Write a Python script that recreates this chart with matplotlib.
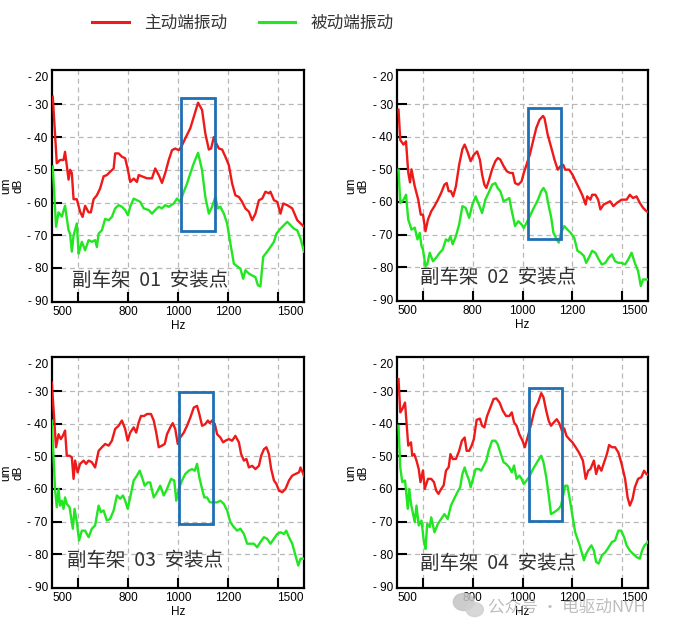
import matplotlib
matplotlib.use('Agg')
import matplotlib.pyplot as plt
from matplotlib.patches import Rectangle, Ellipse
from matplotlib.lines import Line2D

plt.rcParams['font.family'] = ['Liberation Sans', 'Noto Sans CJK SC', 'DejaVu Sans']

# ---------------- data ----------------
legend_labels = ['主动端振动', '被动端振动']
panel_titles = ['副车架  01  安装点', '副车架  02  安装点', '副车架  03  安装点', '副车架  04  安装点']
x_tick_values = [500, 800, 1000, 1200, 1500]
x_grid_values = [600, 800, 1000, 1200, 1400]
y_tick_values = [-20, -30, -40, -50, -60, -70, -80, -90]
y_grid_values = [-30, -40, -50, -60, -70, -80]

p1_main = [(500,-27.7),(516,-48),(529,-47),(543,-47),(549,-44.5),(563,-53),(569,-50),(576,-51),(583,-59),(596,-59),
           (609,-62.8),(619,-64.4),(629,-61),(643,-63),(652,-63),(663,-59),(676,-57.8),(689,-55.7),(703,-52),(716,-51.6),
           (729,-50.6),(743,-49.6),(749,-45),(763,-45),(776,-46),(789,-46.5),(800,-50),(809,-53.7),(823,-52.7),(836,-53.7),
           (843,-51.6),(856,-52),(876,-52.6),(896,-52.6),(909,-49.6),(923,-51.6),(936,-54),(949,-51),(963,-47),(976,-44),
           (989,-43.5),(1003,-44),(1013,-43),(1029,-40.4),(1049,-37.3),(1063,-33.8),(1080,-29.5),(1096,-31.7),(1109,-38.9),(1123,-43.8),
           (1132,-43.5),(1143,-40),(1153,-42),(1163,-43.5),(1176,-43.8),(1189,-46),(1203,-48.6),(1216,-54.2),(1229,-57.8),(1243,-58.3),
           (1256,-59.8),(1269,-61.8),(1283,-62.8),(1296,-65.4),(1309,-63.4),(1323,-59.3),(1336,-58.8),(1349,-56.7),(1363,-57.2),(1369,-56.7),
           (1383,-59.3),(1396,-59.8),(1409,-63.4),(1420,-60.3),(1436,-60.8),(1456,-61.8),(1476,-65.4),(1496,-66.9),(1505,-67.5)]
p1_pass = [(500,-49),(513,-67.4),(523,-63),(536,-64.3),(549,-61),(563,-68.5),(569,-69.5),(576,-75),(583,-70),(596,-66.4),
           (603,-75.6),(609,-74),(616,-72),(629,-74.6),(643,-71.5),(656,-72),(669,-71.5),(676,-73.6),(683,-69.5),(696,-68.5),
           (709,-65),(723,-65.4),(736,-64.4),(749,-61.8),(763,-60.8),(776,-61.3),(789,-62.3),(800,-63.9),(809,-61.3),(823,-58.8),
           (836,-59.3),(849,-59.8),(863,-61.8),(883,-62.3),(896,-63.4),(909,-62.3),(923,-61.3),(936,-61.8),(949,-60.8),(963,-61.3),
           (983,-60.3),(996,-58.8),(1009,-59.8),(1023,-56.7),(1036,-54.2),(1049,-51.1),(1063,-48),(1080,-44.8),(1096,-50.1),(1109,-58.3),
           (1123,-63.4),(1136,-61.3),(1149,-58.3),(1159,-61.8),(1169,-61.3),(1183,-63.4),(1196,-66.4),(1209,-72.5),(1223,-78.7),(1236,-79.5),
           (1249,-80.2),(1260,-83.3),(1269,-80.7),(1283,-81.7),(1296,-82.3),(1309,-82.8),(1319,-85.3),(1329,-85.6),(1340,-76.6),(1356,-75),
           (1369,-73.6),(1383,-72),(1393,-69.5),(1409,-68),(1423,-66.9),(1436,-65.9),(1449,-66.9),(1463,-68),(1476,-68.5),(1489,-71),(1503,-75)]

p2_main = [(503,-31.7),(510,-41),(523,-42.4),(533,-41.4),(542,-51),(549,-54),(555,-50),(568,-55.2),(582,-59.3),(592,-63.9),
           (601,-63.9),(611,-69),(621,-65.4),(634,-62.9),(647,-61.3),(661,-59.3),(674,-57.2),(687,-54.7),(696,-54.2),(704,-56.7),
           (713,-56.7),(722,-58.3),(733,-55.2),(746,-48.6),(759,-43.8),(768,-42.4),(779,-44.5),(792,-47.5),(805,-45.5),(818,-44.5),
           (829,-47),(838,-51.6),(847,-54.7),(855,-55.7),(864,-53.7),(878,-50),(891,-47.5),(901,-46.5),(911,-47),(924,-49),
           (937,-50.6),(950,-51.1),(961,-51.1),(970,-54.2),(983,-54.7),(996,-53.7),(1005,-51.1),(1016,-48.6),(1029,-45.5),(1042,-41.4),
           (1055,-37.3),(1068,-34.8),(1082,-33.6),(1088,-34.3),(1101,-39.4),(1114,-43),(1128,-47),(1141,-50.1),(1151,-49.1),(1163,-48.6),
           (1171,-50.1),(1187,-50.1),(1200,-51.6),(1213,-53.7),(1226,-55.7),(1239,-57.8),(1253,-60.8),(1259,-58.3),(1272,-59.3),(1279,-57.8),
           (1292,-57.8),(1303,-59.3),(1312,-62.3),(1325,-60.8),(1338,-60.3),(1351,-59.8),(1364,-61.3),(1378,-60.3),(1397,-59.3),(1417,-59.3),
           (1430,-57.8),(1443,-58.8),(1457,-58.3),(1470,-60.3),(1483,-61.8),(1496,-62.8),(1505,-63.2)]
p2_pass = [(503,-50.1),(510,-60.3),(523,-59.3),(533,-57.8),(542,-65.4),(555,-68.5),(568,-67.9),(579,-71.5),(588,-69.5),(595,-73.6),
           (601,-74.6),(611,-79.7),(618,-79.2),(628,-75.6),(641,-78.2),(654,-77.1),(668,-75.6),(680,-74.6),(693,-71.5),(703,-72),
           (711,-70.5),(720,-73),(733,-70.5),(746,-66.9),(759,-61.3),(772,-61.8),(786,-64.9),(799,-60.8),(812,-58.3),(825,-60.8),
           (838,-63.4),(851,-59.3),(864,-57.2),(878,-54.7),(891,-54.2),(900,-55.7),(911,-56.7),(924,-59.8),(937,-59.3),(947,-58.8),
           (957,-62.8),(970,-67.4),(983,-65.9),(996,-66.9),(1005,-68),(1016,-66.4),(1029,-64.4),(1042,-62.3),(1062,-59.3),(1075,-56.7),
           (1084,-55.7),(1095,-57.2),(1105,-61.3),(1114,-64.4),(1124,-69.5),(1134,-71),(1145,-72.5),(1154,-69.5),(1167,-67.4),(1180,-68.5),
           (1193,-69.5),(1207,-71),(1220,-75),(1233,-75.6),(1246,-76.6),(1255,-78.7),(1266,-77.1),(1279,-75),(1292,-75.6),(1305,-77.6),
           (1318,-79.2),(1332,-78.7),(1345,-77.1),(1358,-76.1),(1371,-78.2),(1384,-78.7),(1397,-78.7),(1411,-79.2),(1424,-77.6),(1437,-75.6),
           (1450,-78.7),(1463,-81.2),(1474,-85.8),(1483,-83.8),(1496,-83.8),(1505,-83.8)]

p3_main = [(496,-27.3),(513,-47.2),(523,-43.2),(532,-44.7),(540,-43.7),(549,-42.1),(556,-49.8),(567,-49.8),(576,-50.3),(583,-56.9),
           (589,-51.3),(599,-54.9),(609,-52.3),(623,-51.3),(633,-52.3),(643,-51.3),(656,-51.8),(669,-53.4),(683,-48.3),(696,-47.2),
           (709,-46.2),(723,-46.7),(736,-45.2),(749,-41.6),(763,-40.6),(776,-39),(789,-41.6),(799,-45.2),(809,-42.7),(823,-41.1),
           (833,-42.7),(843,-39.6),(852,-37.6),(865,-37.6),(876,-37),(892,-37),(903,-39),(913,-42.7),(923,-47.2),(936,-46.7),
           (947,-46.2),(956,-43.2),(969,-41.1),(979,-39.8),(989,-41.6),(999,-46.2),(1009,-44.2),(1023,-42.7),(1036,-40.6),(1049,-38.1),
           (1063,-35),(1076,-34.5),(1085,-37),(1096,-40.6),(1109,-40.1),(1119,-39),(1127,-39.8),(1136,-39),(1147,-40.1),(1156,-43.2),
           (1169,-44.2),(1180,-45.7),(1189,-45.2),(1203,-44.7),(1216,-45.2),(1229,-43.7),(1243,-45.7),(1252,-49.3),(1263,-51.3),(1273,-50.8),
           (1283,-53.4),(1296,-52.9),(1309,-53.9),(1323,-52.9),(1332,-49.8),(1343,-47.8),(1353,-47.2),(1363,-49.3),(1372,-53.9),(1383,-57.4),
           (1393,-58.5),(1403,-60.5),(1416,-61),(1429,-60),(1443,-57.4),(1456,-55.9),(1469,-55.4),(1483,-54.9),(1489,-53.4),(1500,-55.4),(1505,-56.4)]
p3_pass = [(496,-39),(509,-60),(516,-65.6),(523,-60),(529,-65.1),(536,-63.6),(543,-66.1),(549,-62.6),(556,-64.6),(567,-65.6),
           (580,-72.2),(587,-66.1),(596,-70.2),(605,-75.8),(616,-72.8),(629,-72.8),(643,-74.8),(656,-72.2),(669,-71.2),(683,-65.1),
           (692,-67.1),(703,-66.6),(716,-69.7),(729,-69.2),(743,-66.6),(756,-62),(769,-63),(780,-62),(789,-63.6),(799,-66.1),
           (809,-62.6),(823,-57.4),(836,-55.9),(847,-54.4),(856,-56.4),(867,-59),(879,-58),(889,-58),(903,-62.6),(916,-61),
           (929,-59),(943,-62),(956,-60),(972,-56.9),(985,-57.4),(993,-63.6),(1003,-60),(1016,-57.4),(1029,-55.4),(1043,-54.4),
           (1056,-53.9),(1067,-54.4),(1076,-52.3),(1085,-56.4),(1096,-60),(1105,-62.6),(1116,-62.6),(1127,-64.1),(1143,-64.1),(1156,-64.1),
           (1169,-63.6),(1183,-64.6),(1196,-66.6),(1209,-70.2),(1223,-71.7),(1236,-72.8),(1249,-72.2),(1263,-73.8),(1276,-76.8),(1289,-76.8),
           (1303,-76.8),(1316,-77.9),(1329,-76.3),(1343,-74.8),(1356,-75.3),(1369,-76.8),(1383,-75.3),(1396,-73.8),(1409,-73.3),(1423,-73.8),
           (1432,-72.8),(1443,-74.8),(1456,-76.8),(1469,-80.4),(1480,-83.5),(1489,-81.4),(1505,-81.4)]

p4_main = [(503,-26.3),(510,-36.5),(518,-35.5),(529,-33.5),(542,-46.7),(553,-45.7),(558,-49.8),(566,-49.3),(575,-51.3),(584,-53.9),
           (591,-57.9),(601,-54.3),(608,-60),(621,-56.9),(634,-56.9),(645,-57.9),(654,-60.5),(663,-61.5),(674,-60),(684,-58.9),
           (693,-54.4),(704,-53.3),(711,-49.3),(720,-50.8),(733,-50.8),(746,-48.3),(757,-45.2),(768,-44.2),(776,-48.3),(786,-48.3),
           (796,-46.7),(805,-44.7),(816,-38.8),(829,-38.4),(838,-40.6),(847,-41.1),(858,-37.6),(871,-35),(884,-32.4),(895,-32.2),
           (908,-33.5),(921,-36),(934,-37.6),(947,-37.6),(957,-36.5),(966,-39.6),(976,-40.6),(987,-43.2),(1000,-45.2),(1009,-47.2),
           (1022,-43.7),(1036,-39.6),(1049,-35.5),(1062,-33.5),(1075,-30.6),(1084,-31.9),(1095,-36),(1105,-39.1),(1114,-40.6),(1125,-39.6),
           (1137,-38.6),(1147,-39.8),(1158,-42.1),(1167,-41.4),(1176,-43.7),(1187,-44.7),(1200,-45.7),(1213,-47.2),(1226,-48.8),(1242,-51.3),
           (1253,-56.9),(1263,-54.4),(1272,-53.9),(1286,-51.3),(1295,-55.4),(1305,-52.8),(1316,-54.4),(1325,-52.3),(1338,-49.3),(1347,-46.5),
           (1358,-47.2),(1371,-47.2),(1384,-48.8),(1397,-52.3),(1411,-56.9),(1421,-62.6),(1430,-65.1),(1441,-63),(1450,-59.5),(1463,-56.9),
           (1476,-56.4),(1487,-54.4),(1496,-55.4),(1505,-55.8)]
p4_pass = [(503,-40.6),(510,-53.4),(518,-57.9),(529,-57.4),(540,-66.1),(546,-60),(553,-64.6),(568,-70.2),(575,-65.1),(584,-71.2),
           (595,-69.7),(604,-75.8),(611,-78.4),(618,-70.7),(628,-71.7),(634,-68.7),(647,-73.3),(661,-70.7),(674,-69.2),(687,-67.7),
           (700,-69.2),(713,-65.1),(726,-63),(739,-61),(750,-59.5),(759,-55.4),(768,-53.4),(776,-55.4),(786,-57.4),(792,-59.5),
           (803,-56.4),(812,-53.9),(825,-53.9),(834,-54.4),(845,-52.8),(855,-51.3),(864,-48.3),(878,-45.2),(891,-45.2),(900,-46.2),
           (911,-48.8),(924,-51.8),(934,-52.3),(947,-53.4),(957,-54.9),(966,-52.8),(976,-56.9),(987,-55.9),(996,-56.9),(1005,-58.5),
           (1016,-57.4),(1026,-56.4),(1042,-53.9),(1062,-51.3),(1075,-49.8),(1084,-51.8),(1095,-56.4),(1105,-62),(1114,-67.7),(1128,-67.1),
           (1145,-66.1),(1154,-65.1),(1171,-59),(1180,-59),(1189,-63),(1200,-68.2),(1211,-73.3),(1220,-75.3),(1229,-77.3),(1237,-79.4),
           (1246,-81.9),(1255,-79.9),(1266,-78.4),(1276,-77.3),(1286,-78.9),(1295,-82.4),(1305,-82.9),(1318,-80.4),(1332,-79.4),(1345,-77.9),
           (1358,-76.3),(1371,-75.8),(1384,-72.8),(1395,-72.8),(1407,-74.8),(1417,-77.3),(1430,-78.9),(1443,-79.9),(1457,-80.9),(1470,-81.4),
           (1479,-78.9),(1489,-77.3),(1496,-76.8),(1505,-76)]

main_series = [p1_main, p2_main, p3_main, p4_main]
pass_series = [p1_pass, p2_pass, p3_pass, p4_pass]
# highlight boxes: (f_start, f_end, dB_low, dB_high)
boxes = [(1013, 1149, -68.7, -28.2),
         (1020, 1154, -71.5, -31.2),
         (1005, 1140, -70.7, -30.2),
         (1025, 1158, -69.7, -29.1)]

# ---------------- style ----------------
RED = '#ee1a1a'
GREEN = '#22e622'
BLUE = '#1f6fb4'
TEXT = '#333333'

fig = plt.figure(figsize=(6.9, 6.35), dpi=100)
positions = [[0.0754, 0.5244, 0.3652, 0.3654],
             [0.5754, 0.5260, 0.3638, 0.3638],
             [0.0754, 0.0740, 0.3652, 0.3638],
             [0.5754, 0.0740, 0.3638, 0.3638]]
title_pos = [(0.079, 0.092), (0.091, 0.102), (0.060, 0.118), (0.091, 0.108)]

for i in range(4):
    ax = fig.add_axes(positions[i])
    fm, dm = zip(*main_series[i])
    fp, dp = zip(*pass_series[i])
    ax.plot(fm, dm, color=RED, lw=1.7, solid_joinstyle='round', zorder=3)
    ax.plot(fp, dp, color=GREEN, lw=1.7, solid_joinstyle='round', zorder=3)
    b = boxes[i]
    ax.add_patch(Rectangle((b[0], b[2]), b[1] - b[0], b[3] - b[2], fill=False,
                           edgecolor=BLUE, lw=2.0, zorder=4))
    ax.set_xlim(497, 1503)
    ax.set_ylim(-90.4, -19.5)
    ax.xaxis.remove_overlapping_locs = False
    ax.yaxis.remove_overlapping_locs = False
    ax.set_xticks(x_grid_values)
    ax.set_xticklabels([])
    ax.set_yticks(y_grid_values)
    ax.set_yticklabels([])
    ax.tick_params(which='major', direction='in', length=7, width=1.5, color='black')
    ax.set_xticks(x_tick_values, minor=True)
    ax.set_xticklabels([str(v) for v in x_tick_values], minor=True)
    ax.set_yticks(y_tick_values, minor=True)
    ax.set_yticklabels(['- %d' % abs(v) for v in y_tick_values], minor=True)
    ax.tick_params(which='minor', length=0, pad=3, labelsize=8.5, labelcolor='black')
    xl = ax.get_xticklabels(minor=True)
    xl[0].set_horizontalalignment('left')
    xl[-1].set_horizontalalignment('right')
    yl = ax.get_yticklabels(minor=True)
    yl[0].set_verticalalignment('top')
    ax.grid(True, which='major', linestyle=(0, (4, 3)), color='#b8b8b8', lw=0.9)
    for s in ax.spines.values():
        s.set_linewidth(1.6)
        s.set_color('black')
    ax.set_xlabel('Hz', fontsize=8.5, labelpad=1)
    ax.set_ylabel('um\ndB', fontsize=8.5, labelpad=2, linespacing=1.1)
    ax.text(title_pos[i][0], title_pos[i][1], panel_titles[i], transform=ax.transAxes,
            fontsize=14, color=TEXT, ha='left', va='center',
            family=['Noto Sans CJK SC', 'DejaVu Sans'], zorder=5)

handles = [Line2D([], [], color=RED, lw=2.2), Line2D([], [], color=GREEN, lw=2.2)]
fig.legend(handles, legend_labels, loc='center', bbox_to_anchor=(0.352, 0.963), ncol=2,
           frameon=False, prop={'family': ['Noto Sans CJK SC', 'DejaVu Sans'], 'size': 12},
           handlelength=2.2, handletextpad=0.9, columnspacing=1.9, labelcolor=TEXT)

# watermark
fig.add_artist(Ellipse((0.672, 0.052), 0.030, 0.027, transform=fig.transFigure,
                       color='#c4c4c4', alpha=0.85, zorder=10))
fig.add_artist(Ellipse((0.688, 0.040), 0.025, 0.022, transform=fig.transFigure,
                       color='#d0d0d0', alpha=0.85, zorder=10))
fig.text(0.707, 0.044, '公众号 · 电驱动NVH', fontsize=12, color='#a8a8a8', alpha=0.75,
         ha='left', va='center', family=['Noto Sans CJK SC', 'DejaVu Sans'], zorder=10)

fig.savefig('out.png', dpi=100)
